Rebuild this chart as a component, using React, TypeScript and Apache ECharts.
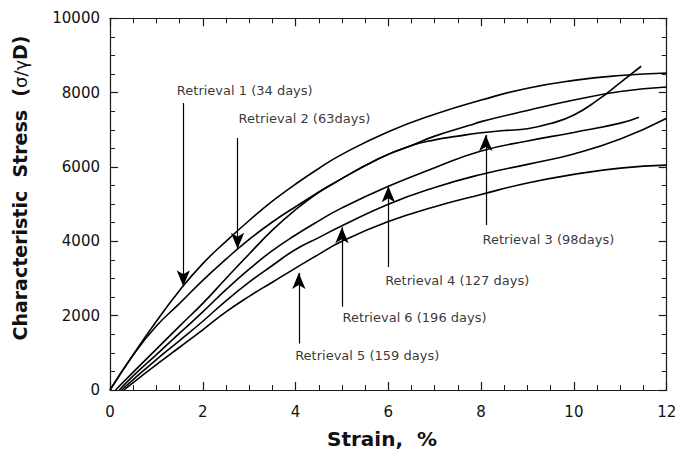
import React, { useEffect, useRef } from "react";
import * as echarts from "echarts";

// ---- Data (strain %, characteristic stress) ----
const strain1 = [0, 0.5, 1, 1.5, 2, 2.5, 3, 3.5, 4, 4.5, 5, 6, 7, 8, 9, 10, 11, 12];
const stress1 = [0, 950, 1850, 2680, 3400, 4000, 4560, 5080, 5540, 5960, 6340, 6950, 7420, 7800, 8120, 8330, 8460, 8530];

const strain2 = [0, 0.5, 1, 1.5, 2, 2.5, 3, 3.5, 4, 4.75, 5.8, 6.5, 7, 7.75, 8, 9, 10, 11, 12];
const stress2 = [0, 945, 1720, 2330, 2950, 3520, 4050, 4520, 4930, 5510, 6230, 6580, 6830, 7120, 7220, 7520, 7800, 8030, 8150];

const strain3 = [0.12, 0.5, 1, 1.5, 2, 2.5, 3, 3.5, 4, 4.5, 4.75, 5.8, 6.5, 7, 7.5, 8, 8.5, 9, 9.5, 10, 10.5, 11, 11.45];
const stress3 = [0, 480, 1100, 1720, 2330, 3000, 3660, 4300, 4850, 5320, 5510, 6230, 6580, 6730, 6830, 6920, 6980, 7030, 7170, 7400, 7790, 8270, 8710];

const strain4 = [0.2, 0.5, 1, 1.5, 2, 2.5, 3, 3.5, 4, 4.5, 5, 6, 7, 8, 9, 10, 11, 11.4];
const stress4 = [0, 380, 950, 1530, 2100, 2700, 3250, 3750, 4170, 4550, 4900, 5480, 5980, 6430, 6700, 6930, 7180, 7340];

const strain6 = [0.25, 0.5, 1, 1.5, 2, 2.5, 3, 3.5, 4, 4.5, 5, 6, 7, 8, 9, 10, 11, 12];
const stress6 = [0, 280, 820, 1330, 1850, 2400, 2900, 3350, 3780, 4100, 4420, 5000, 5450, 5800, 6070, 6350, 6750, 7310];

const strain5 = [0.3, 0.5, 1, 1.5, 2, 2.5, 3, 3.5, 4, 4.5, 5, 6, 7, 8, 9, 10, 11, 12];
const stress5 = [0, 200, 680, 1150, 1620, 2100, 2520, 2900, 3280, 3650, 4000, 4530, 4930, 5260, 5570, 5800, 5970, 6050];

const seriesNames = [
  "Retrieval 1 (34 days)",
  "Retrieval 2 (63days)",
  "Retrieval 3 (98days)",
  "Retrieval 4 (127 days)",
  "Retrieval 6 (196 days)",
  "Retrieval 5 (159 days)",
];

// arrows: x position, tail stress, head stress (data units)
const arrowX = [1.58, 2.75, 8.1, 6.0, 5.0, 4.07];
const arrowFrom = [7720, 6780, 4440, 3310, 2240, 1250];
const arrowTo = [2790, 3800, 6860, 5480, 4380, 3150];

// annotation labels (left edge x, middle y in data units)
const labelText = seriesNames;
const labelX = [1.44, 2.77, 8.03, 5.93, 5.01, 3.99];
const labelY = [8046, 7304, 4051, 2957, 1944, 941];

// axis ticks
const xMin = 0, xMax = 12, xStep = 2;
const yMin = 0, yMax = 10000, yStep = 2000;

const FONT = "'DejaVu Sans', sans-serif";

export default function App() {
  const ref = useRef<HTMLDivElement>(null);

  useEffect(() => {
    if (!ref.current) return;
    const chart = echarts.init(ref.current, null, { renderer: "svg" });

    const curves = [
      [strain1, stress1],
      [strain2, stress2],
      [strain3, stress3],
      [strain4, stress4],
      [strain6, stress6],
      [strain5, stress5],
    ];

    const axisLine = { show: true, onZero: false, lineStyle: { color: "#1a1a1a", width: 1.2 } };
    const tick = { show: true, inside: true, length: 8, lineStyle: { color: "#1a1a1a", width: 1.2 } };
    const minor = (n: number) => ({ show: true, splitNumber: n, length: 5, lineStyle: { color: "#1a1a1a", width: 1 } });

    const lineSeries: any[] = curves.map(([xs, ys], i) => ({
      type: "line",
      name: seriesNames[i],
      data: xs.map((x, j) => [x, ys[j]]),
      showSymbol: false,
      smooth: 0.5,
      lineStyle: { color: "#000", width: 1.6 },
      z: 3,
      markLine: {
        silent: true,
        animation: false,
        symbol: ["none", "arrow"],
        symbolSize: [10, 16],
        label: { show: false },
        lineStyle: { color: "#000", width: 1.2, type: "solid" },
        data: [[{ coord: [arrowX[i], arrowFrom[i]] }, { coord: [arrowX[i], arrowTo[i]] }]],
      },
    }));

    const labelSeries = {
      type: "scatter",
      name: "labels",
      symbol: "circle",
      symbolSize: 0.1,
      itemStyle: { color: "rgba(0,0,0,0)" },
      silent: true,
      data: labelText.map((t, i) => ({ name: t, value: [labelX[i], labelY[i]] })),
      label: {
        show: true,
        position: "right",
        distance: 0,
        formatter: "{b}",
        fontFamily: FONT,
        fontSize: 13,
        color: "#000",
      },
      z: 5,
    };

    chart.setOption({
      animation: false,
      backgroundColor: "#fff",
      grid: { left: 110, right: 10.3, top: 18.3, bottom: 65, containLabel: false, outerBoundsMode: "none" },
      xAxis: [
        {
          type: "value",
          position: "bottom",
          min: xMin,
          max: xMax,
          interval: xStep,
          axisLine,
          axisTick: tick,
          minorTick: minor(4),
          splitLine: { show: false },
          axisLabel: { fontFamily: FONT, fontSize: 15, color: "#111", margin: 14 },
        },
        {
          type: "value",
          position: "top",
          min: xMin,
          max: xMax,
          interval: xStep,
          axisLine,
          axisTick: tick,
          minorTick: minor(4),
          splitLine: { show: false },
          axisLabel: { show: false },
        },
      ],
      yAxis: [
        {
          type: "value",
          position: "left",
          min: yMin,
          max: yMax,
          interval: yStep,
          axisLine,
          axisTick: tick,
          minorTick: minor(4),
          splitLine: { show: false },
          axisLabel: {
            fontFamily: FONT,
            fontSize: 15,
            color: "#111",
            margin: 10,
            formatter: (v: number) => String(v),
          },
        },
        {
          type: "value",
          position: "right",
          min: yMin,
          max: yMax,
          interval: yStep,
          axisLine,
          axisTick: tick,
          minorTick: minor(4),
          splitLine: { show: false },
          axisLabel: { show: false },
        },
      ],
      series: [...lineSeries, labelSeries],
      graphic: [
        {
          type: "text",
          x: 20,
          y: 188,
          rotation: Math.PI / 2,
          style: {
            text: "Characteristic  Stress  ({n|σ/γ}D)",
            font: `bold 19px ${FONT}`,
            fill: "#111",
            textAlign: "center",
            textVerticalAlign: "middle",
            rich: { n: { fontFamily: FONT, fontSize: 18, fontWeight: "normal", fill: "#111" } },
          },
        },
        {
          type: "text",
          x: 382,
          y: 439,
          style: {
            text: "Strain,  %",
            font: `bold 20px ${FONT}`,
            fill: "#111",
            textAlign: "center",
            textVerticalAlign: "middle",
          },
        },
      ],
    });

    return () => chart.dispose();
  }, []);

  return (
    <div
      ref={ref}
      style={{ position: "fixed", left: 0, top: 0, width: 677, height: 455, background: "#fff" }}
    />
  );
}
